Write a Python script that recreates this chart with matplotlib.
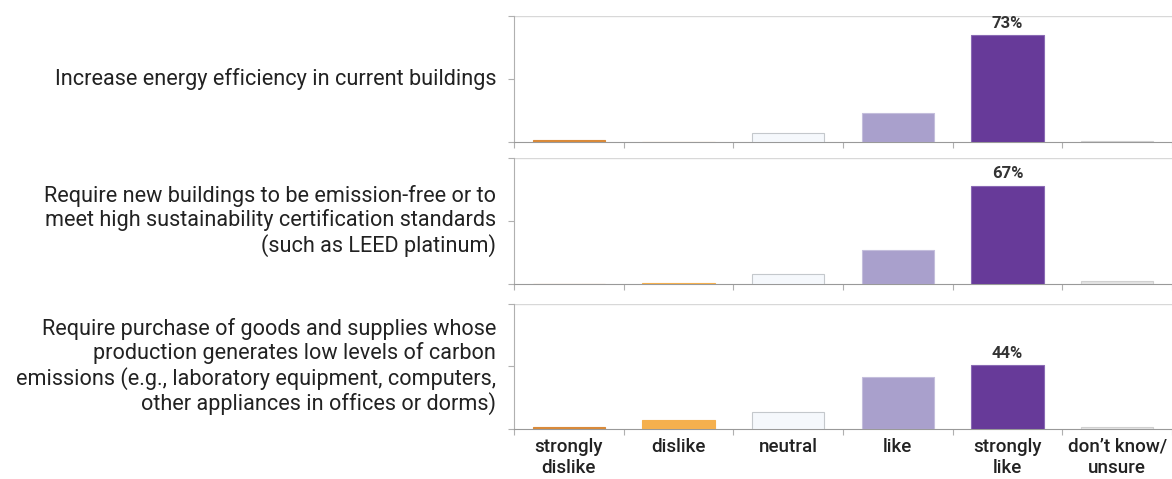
import matplotlib.pyplot as plt

plt.rcParams['font.family'] = ['Roboto', 'DejaVu Sans']

categories = ['strongly\ndislike', 'dislike', 'neutral', 'like', 'strongly\nlike', 'don\u2019t know/\nunsure']
questions = [
    'Increase energy efficiency in current buildings',
    'Require new buildings to be emission-free or to\nmeet high sustainability certification standards\n(such as LEED platinum)',
    'Require purchase of goods and supplies whose\nproduction generates low levels of carbon\nemissions (e.g., laboratory equipment, computers,\nother appliances in offices or dorms)',
]
energy_efficiency = [0.012, 0.0, 0.06, 0.20, 0.73, 0.005]
new_buildings = [0.0, 0.01, 0.07, 0.23, 0.67, 0.02]
low_carbon_goods = [0.012, 0.06, 0.12, 0.36, 0.44, 0.015]
series = [energy_efficiency, new_buildings, low_carbon_goods]

colors = ['#d98a3a', '#f5b04e', '#f5f8fc', '#a9a0cc', '#673a99', '#e2e2e2']
edges = ['#d98a3a', '#f5b04e', '#c4c8cc', '#c4bedc', '#8a6ab4', '#d0d0d0']

fig = plt.figure(figsize=(11.72, 4.79), dpi=100)
# axes boxes in figure fractions (left, bottom, width, height)
boxes = [
    (0.4386, 0.7035, 0.5614, 0.263),
    (0.4386, 0.4071, 0.5614, 0.263),
    (0.4386, 0.1044, 0.5614, 0.261),
]
ymax = 0.86
grey = '#b0b0b0'

for i, (vals, q, box) in enumerate(zip(series, questions, boxes)):
    ax = fig.add_axes(box)
    x = range(len(categories))
    ax.bar(x, vals, width=0.66, color=colors, edgecolor=edges, linewidth=0.8, zorder=3)
    ax.set_xlim(-0.5, len(categories) - 0.5)
    ax.set_ylim(0, ymax)
    ax.set_yticks([0, ymax / 2, ymax])
    ax.set_yticklabels([])
    ax.axhline(ymax, color='#d8d8d8', lw=1, zorder=1)
    for s in ['top', 'right']:
        ax.spines[s].set_visible(False)
    ax.spines['left'].set_color(grey)
    ax.spines['bottom'].set_color('#999999')
    ax.tick_params(axis='y', length=4, color=grey)
    ax.set_xticks([k - 0.5 for k in range(len(categories) + 1)])
    ax.set_xticklabels([])
    ax.tick_params(axis='x', length=4, color=grey)
    if i == 2:
        for k, c in enumerate(categories):
            ax.text(k, -0.06, c, ha='center', va='top', fontsize=13.5, fontweight='medium',
                    color='#222222', linespacing=1.25, transform=ax.transData)
    # label the top bar
    top = max(range(len(vals)), key=lambda k: vals[k])
    ax.text(top, vals[top] + 0.03, f'{vals[top]:.0%}', ha='center', va='bottom',
            fontsize=12, fontweight='semibold', color='#333333')
    ax.text(-0.027, 0.5, q, transform=ax.transAxes, ha='right', va='center',
            fontsize=15.6, color='#222222', linespacing=1.12, multialignment='right')

fig.savefig('out.png', dpi=100)
